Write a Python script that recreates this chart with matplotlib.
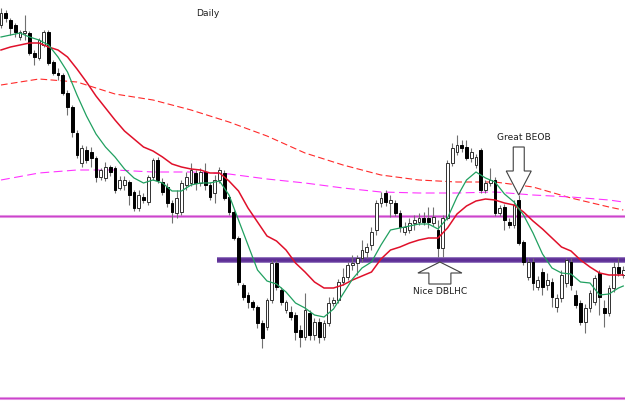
import matplotlib
matplotlib.use('Agg')
import matplotlib.pyplot as plt
from matplotlib.patches import Rectangle, Polygon
import numpy as np

# ---- candle data (arbitrary price units) ----
opens = [375, 387, 380, 375, 363, 367, 367, 347, 342, 355, 368, 338, 327, 325, 307, 293, 267, 237, 250, 248,
         242, 223, 222, 233, 232, 212, 215, 218, 208, 192, 203, 198, 223, 240, 218, 213, 197, 187, 188, 215,
         217, 227, 217, 228, 215, 207, 220, 227, 203, 188, 162, 115, 105, 98, 93, 77, 73, 100, 137, 110,
         90, 88, 85, 70, 63, 87, 65, 78, 63, 77, 97, 100, 118, 123, 135, 137, 142, 148, 155, 170,
         197, 207, 197, 197, 187, 168, 170, 177, 178, 182, 182, 177, 170, 152, 182, 237, 248, 255, 253, 242,
         235, 250, 210, 217, 220, 187, 193, 178, 175, 200, 158, 123, 138, 113, 128, 115, 118, 93, 102, 117,
         138, 105, 97, 78, 92, 98, 127, 92, 87, 112, 133, 125]
highs = [392, 390, 382, 377, 370, 385, 369, 350, 362, 370, 370, 340, 332, 327, 310, 295, 270, 255, 254, 253,
         244, 232, 238, 235, 234, 224, 224, 220, 210, 210, 207, 225, 242, 243, 222, 217, 200, 210, 220, 228,
         237, 230, 232, 237, 218, 225, 233, 230, 205, 190, 164, 117, 108, 100, 95, 80, 102, 140, 140, 113,
         100, 94, 88, 75, 107, 90, 82, 82, 80, 103, 103, 121, 132, 138, 145, 145, 160, 157, 173, 200,
         208, 210, 205, 200, 190, 178, 182, 185, 187, 188, 193, 193, 180, 185, 240, 257, 265, 260, 260, 252,
         246, 252, 220, 232, 223, 195, 196, 182, 200, 205, 160, 142, 142, 124, 132, 127, 122, 106, 130, 142,
         142, 110, 100, 96, 110, 125, 130, 100, 115, 138, 142, 134]
lows = [372, 378, 365, 363, 360, 360, 345, 335, 340, 353, 335, 325, 320, 305, 285, 263, 242, 233, 237, 233,
        218, 220, 219, 224, 207, 210, 210, 195, 189, 189, 197, 195, 220, 217, 205, 193, 177, 182, 185, 210,
        214, 210, 214, 210, 200, 197, 217, 200, 185, 160, 115, 100, 92, 90, 72, 52, 70, 97, 110, 95,
        87, 80, 60, 53, 60, 60, 60, 57, 60, 74, 94, 97, 115, 120, 130, 125, 138, 142, 150, 165,
        193, 194, 183, 184, 168, 165, 167, 170, 175, 175, 172, 174, 143, 143, 180, 234, 245, 248, 240, 238,
        232, 207, 207, 214, 184, 184, 170, 172, 172, 155, 135, 120, 110, 110, 105, 110, 93, 88, 98, 113,
        110, 92, 75, 67, 88, 95, 85, 73, 84, 108, 124, 122]
closes = [387, 382, 372, 368, 368, 369, 347, 343, 360, 368, 337, 327, 325, 307, 293, 268, 245, 252, 240, 242,
          223, 230, 233, 228, 210, 220, 220, 205, 192, 205, 200, 223, 240, 220, 208, 197, 188, 202, 217, 223,
          230, 217, 228, 215, 203, 220, 230, 202, 188, 162, 118, 103, 98, 93, 77, 62, 100, 137, 113, 98,
          98, 83, 68, 63, 90, 65, 78, 63, 77, 97, 100, 118, 123, 135, 137, 142, 150, 153, 168, 197,
          202, 198, 200, 187, 173, 173, 177, 180, 182, 178, 178, 183, 152, 182, 237, 252, 255, 252, 242, 248,
          243, 210, 217, 220, 187, 192, 180, 175, 195, 157, 138, 138, 117, 120, 113, 120, 103, 102, 125, 140,
          115, 95, 78, 92, 107, 122, 103, 87, 112, 133, 127, 130]

# ---- moving averages ----
fast_idx = list(range(0, 131, 2)) + [131]
ma_green = [363, 365, 367, 363, 360, 355, 343, 328, 305, 284, 266, 253, 243, 231, 222, 217, 220, 217, 209, 209,
            215, 217, 217, 219, 205, 180, 155, 130, 119, 116, 108, 97, 92, 85, 83, 91, 106, 121, 132, 138,
            155, 170, 172, 174, 176, 176, 171, 182, 203, 220, 228, 222, 218, 206, 198, 185, 167, 146, 132, 127,
            126, 118, 117, 105, 106, 112, 114]
ma_red = [350, 353, 355, 357, 357, 353, 350, 343, 331, 318, 304, 292, 280, 269, 261, 253, 249, 243, 236, 233,
          231, 230, 227, 227, 219, 209, 192, 178, 164, 159, 150, 137, 128, 118, 112, 112, 115, 120, 124, 128,
          141, 150, 153, 157, 160, 162, 162, 172, 186, 194, 199, 201, 200, 197, 195, 188, 179, 171, 162, 153,
          149, 140, 133, 127, 125, 125, 125]
slow_idx = list(range(0, 129, 8)) + [131]
ma_slow_red = [315, 321, 318, 306, 300, 290, 278, 264, 247, 235, 225, 220, 218, 218, 213, 202, 193, 190]
ma_slow_magenta = [220, 227, 230, 230, 228, 228, 226, 221, 217, 212, 208, 207, 207, 208, 205, 203, 200, 198]

# ---- horizontal levels ----
level_upper = 184.5
level_lower = 2
level_zone = 140.5
level_zone_start = 45.5

# ---- annotations ----
label_title = "Daily"
label_bear = "Great BEOB"
label_bull = "Nice DBLHC"
bear_idx, bear_price = 109, 205
bull_idx, bull_price = 92.4, 138

W, H = 625, 404
fig = plt.figure(figsize=(W / 100, H / 100), dpi=100)
ax = fig.add_axes([0, 0, 1, 1])
ax.set_xlim(-0.21, -0.21 + W / 4.75)
ax.set_ylim(-4, 400)
ax.axis('off')
fig.patch.set_facecolor('white')

px_x = 1 / 4.75  # index units per pixel
px_y = 1.0       # price units per pixel

# horizontal lines
ax.axhline(level_upper, color='#e8a8e8', lw=2.2, zorder=1)
ax.axhline(level_upper, color='#cc44cc', lw=1.0, zorder=1)
ax.axhline(level_lower, color='#e8a8e8', lw=2.2, zorder=1)
ax.axhline(level_lower, color='#cc44cc', lw=1.0, zorder=1)
ax.plot([level_zone_start, 140], [level_zone, level_zone], color='#8a6ab8', lw=4.2, zorder=1,
        solid_capstyle='butt')
ax.plot([level_zone_start, 140], [level_zone, level_zone], color='#5e2f96', lw=2.6, zorder=1,
        solid_capstyle='butt')

# slow MAs
ax.plot(slow_idx, ma_slow_red, color='#ff2a2a', lw=0.8, ls=(0, (6, 3)), zorder=2)
ax.plot(slow_idx, ma_slow_magenta, color='#ff33ff', lw=0.8, ls=(0, (8, 4)), zorder=2)

# candles
bw = 0.62
for i, (o, h, l, c) in enumerate(zip(opens, highs, lows, closes)):
    ax.plot([i, i], [l, h], color='#707070', lw=0.8, zorder=3, solid_capstyle='butt')
    bot = min(o, c)
    ht = max(abs(c - o), 1.0)
    if c >= o:
        ax.add_patch(Rectangle((i - bw / 2, bot), bw, ht, facecolor='white', edgecolor='#303030',
                               lw=0.7, zorder=4))
    else:
        ax.add_patch(Rectangle((i - bw / 2, bot), bw, ht, facecolor='black', edgecolor='black',
                               lw=0.7, zorder=4))

# fast MAs
ax.plot(fast_idx, ma_red, color='#e0102a', lw=1.1, zorder=5)
ax.plot(fast_idx, ma_green, color='#20a060', lw=0.9, zorder=5)

# down arrow (bearish)
tx, ty = bear_idx, bear_price
sw, hw, hh, sl = 5.5 * px_x, 12.5 * px_x, 24 * px_y, 24 * px_y
down = [(tx, ty), (tx - hw, ty + hh), (tx - sw, ty + hh), (tx - sw, ty + hh + sl),
        (tx + sw, ty + hh + sl), (tx + sw, ty + hh), (tx + hw, ty + hh)]
ax.add_patch(Polygon(down, closed=True, facecolor='white', edgecolor='#404040', lw=0.8, zorder=6))
ax.text(tx + 1.0, ty + hh + sl + 9, label_bear, ha='center', va='center', fontsize=6.6,
        color='#202020', zorder=7)

# up arrow (bullish)
tx, ty = bull_idx, bull_price
sw, hw, hh, sl = 11 * px_x, 22 * px_y * px_x, 11 * px_y, 11 * px_y
up = [(tx, ty), (tx - hw, ty - hh), (tx - sw, ty - hh), (tx - sw, ty - hh - sl),
      (tx + sw, ty - hh - sl), (tx + sw, ty - hh), (tx + hw, ty - hh)]
ax.add_patch(Polygon(up, closed=True, facecolor='white', edgecolor='#404040', lw=0.8, zorder=6))
ax.text(tx, ty - hh - sl - 8, label_bull, ha='center', va='center', fontsize=6.6,
        color='#202020', zorder=7)

ax.text(208 / W, 1 - 14 / H, label_title, transform=ax.transAxes, ha='center', va='center',
        fontsize=6.6, color='#202020')

fig.savefig('out.png', dpi=100, facecolor='white')
